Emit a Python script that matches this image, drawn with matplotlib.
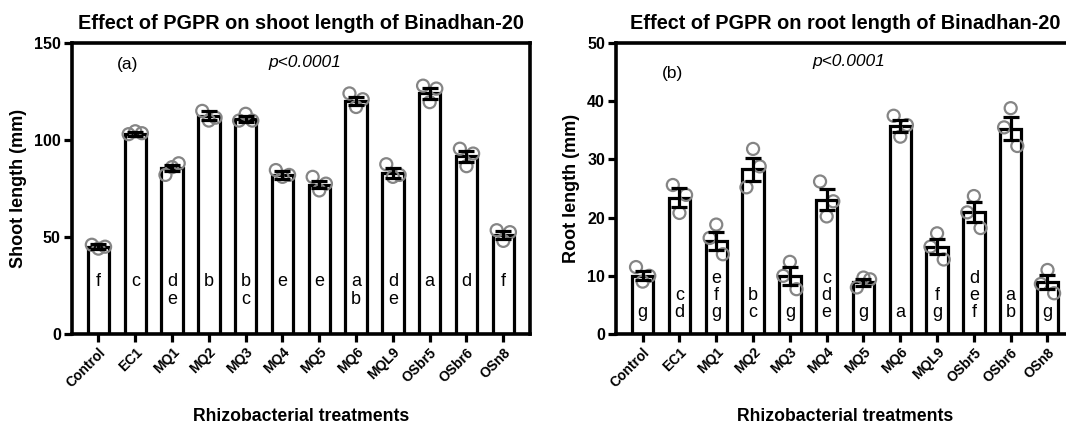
import numpy as np
import matplotlib
matplotlib.use('Agg')
import matplotlib.pyplot as plt

plt.rcParams['font.family'] = ['Liberation Sans', 'DejaVu Sans']

treatments = ['Control', 'EC1', 'MQ1', 'MQ2', 'MQ3', 'MQ4', 'MQ5', 'MQ6',
              'MQL9', 'OSbr5', 'OSbr6', 'OSn8']

# shoot length (mm)
shoot_mean = [45, 103, 85.5, 112.5, 111, 82, 77, 120, 83, 124, 91.5, 51]
shoot_sem = [1.2, 1.0, 1.5, 2.3, 1.5, 2.0, 2.0, 2.0, 2.5, 3.0, 3.0, 2.0]
shoot_reps = [[46, 44, 45], [103, 104.5, 103.5], [82, 86, 88], [115, 110, 111.5],
              [110, 113.5, 110], [84.5, 81, 82], [81, 74, 77.5], [124, 117, 121],
              [87.5, 81, 82], [128, 119.5, 126.5], [95.5, 86.5, 93], [53.5, 48, 52.5]]
shoot_letters = ['f', 'c', 'd\ne', 'b', 'b\nc', 'e', 'e', 'a\nb', 'd\ne', 'a', 'd', 'f']

# root length (mm)
root_mean = [10, 23.4, 16, 28.3, 10, 23.1, 8.9, 35.7, 15, 20.9, 35.3, 8.9]
root_sem = [0.8, 1.6, 1.6, 2.0, 1.5, 1.8, 0.6, 1.0, 1.3, 1.7, 2.0, 1.2]
root_reps = [[11.5, 9.0, 10], [25.6, 20.8, 23.9], [16.5, 18.8, 13.7], [25.2, 31.8, 28.8],
             [10, 12.4, 7.7], [26.2, 20.2, 22.8], [8.0, 9.7, 9.4], [37.5, 33.9, 35.9],
             [15, 17.3, 12.8], [20.9, 23.7, 18.2], [35.5, 38.8, 32.3], [8.6, 11, 7.0]]
root_letters = ['g', 'c\nd', 'e\nf\ng', 'b\nc', 'g', 'c\nd\ne', 'g', 'a', 'f\ng',
                'd\ne\nf', 'a\nb', 'g']

fig = plt.figure(figsize=(10.66, 4.28), dpi=100)
ax1 = fig.add_axes([0.0675, 0.2196, 0.4295, 0.68])
ax2 = fig.add_axes([0.578, 0.2196, 0.4295, 0.68])

x = np.arange(len(treatments))
offsets = np.array([-0.18, 0.0, 0.18])


def draw(ax, mean, sem, reps, letters, ymax, step, ylabel, title, tag, tag_y, p_y, top_align):
    ax.bar(x, mean, width=0.58, color='white', edgecolor='black', linewidth=2.3, zorder=2)
    for i, r in enumerate(reps):
        ax.scatter(x[i] + offsets, r, s=75, facecolors='none', edgecolors='#858585',
                   linewidths=1.6, zorder=3)
    ax.errorbar(x, mean, yerr=sem, fmt='none', ecolor='black', elinewidth=2.3,
                capsize=6, capthick=2.3, zorder=4)
    for i, lab in enumerate(letters):
        if top_align:
            ax.text(x[i], ymax * 0.21, lab, ha='center', va='top', fontsize=13,
                    linespacing=1.1, zorder=5)
        else:
            ax.text(x[i], ymax * 0.045, lab, ha='center', va='bottom', fontsize=13,
                    linespacing=1.0, zorder=5)
    ax.set_xlim(-0.72, 11.72)
    ax.set_ylim(0, ymax)
    ax.set_yticks(np.arange(0, ymax + 1, step))
    ax.set_xticks(x)
    ax.set_xticklabels(treatments, rotation=45, ha='right', rotation_mode='anchor',
                       fontsize=10, fontweight='bold')
    for lab in ax.get_yticklabels():
        lab.set_fontweight('bold')
        lab.set_fontsize(11.5)
    ax.tick_params(axis='both', direction='out', width=2.3, length=6, pad=2)
    for s in ax.spines.values():
        s.set_linewidth(2.6)
    ax.set_ylabel(ylabel, fontsize=13, fontweight='bold', labelpad=5)
    ax.set_xlabel('Rhizobacterial treatments', fontsize=12.7, fontweight='bold', labelpad=13)
    ax.set_title(title, fontsize=14.3, fontweight='bold', pad=10)
    ax.text(0.8, tag_y, tag, fontsize=12.5, ha='center', va='center')
    ax.text(5.6, p_y, 'p<0.0001', fontsize=12.5, fontstyle='italic', ha='center', va='center')


draw(ax1, shoot_mean, shoot_sem, shoot_reps, shoot_letters, 150, 50,
     'Shoot length (mm)', 'Effect of PGPR on shoot length of Binadhan-20',
     '(a)', 139, 140, True)
draw(ax2, root_mean, root_sem, root_reps, root_letters, 50, 10,
     'Root length (mm)', 'Effect of PGPR on root length of Binadhan-20',
     '(b)', 44.8, 46.8, False)

fig.savefig('out.png', dpi=100)
